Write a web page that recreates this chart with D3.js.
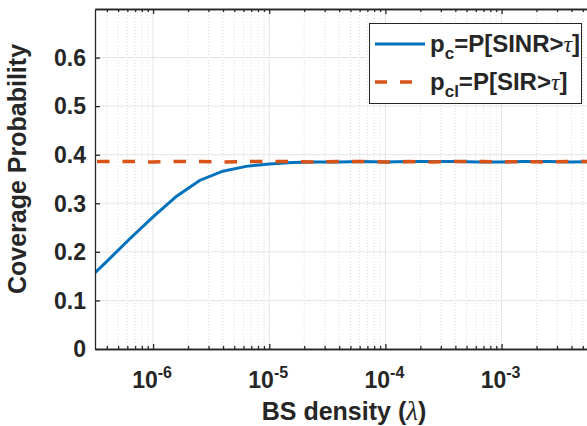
<!DOCTYPE html>
<html>
<head>
<meta charset="utf-8">
<script src="https://cdn.jsdelivr.net/npm/d3@7"></script>
<style>
  body { margin: 0; background: #fff; }
  svg { display: block; font-family: "Liberation Sans", Arial, Helvetica, sans-serif; }
</style>
</head>
<body>
<svg></svg>
<script>
var width = 587
var height = 426

// BS density values (lambda)
var lambda = [3.162e-7, 3.981e-7, 6.310e-7, 1e-6, 1.585e-6, 2.512e-6, 3.981e-6, 6.310e-6,
              1e-5, 1.585e-5, 2.512e-5, 3.981e-5, 6.310e-5, 1e-4, 1.585e-4, 2.512e-4,
              3.981e-4, 6.310e-4, 1e-3, 1.585e-3, 2.512e-3, 3.981e-3, 6.310e-3]
// p_c = P[SINR > tau]
var pc = [0.157, 0.180, 0.227, 0.272, 0.314, 0.347, 0.366, 0.376,
          0.381, 0.384, 0.385, 0.385, 0.386, 0.385, 0.386, 0.386,
          0.386, 0.385, 0.385, 0.386, 0.386, 0.385, 0.386]
// p_cl = P[SIR > tau]
var pcl = [0.386, 0.386, 0.386, 0.385, 0.386, 0.386, 0.385, 0.386,
           0.386, 0.386, 0.385, 0.386, 0.386, 0.385, 0.386, 0.385,
           0.386, 0.386, 0.385, 0.386, 0.385, 0.386, 0.386]

var xMajor = [1e-6, 1e-5, 1e-4, 1e-3]
var xMajorExp = ["-6", "-5", "-4", "-3"]
var yTicks = [0, 0.1, 0.2, 0.3, 0.4, 0.5, 0.6]
var yTickLabels = ["0", "0.1", "0.2", "0.3", "0.4", "0.5", "0.6"]

var plotLeft = 95, plotRight = 593, plotTop = 9, plotBottom = 349
var blue = "#0072BD", orange = "#D95319", axisColor = "#262626"

var xScale = d3.scaleLog()
  .domain([Math.pow(10, -6.5), Math.pow(10, -2.213)])
  .range([plotLeft, plotRight])

var yScale = d3.scaleLinear()
  .domain([0, 0.7])
  .range([plotBottom, plotTop])

// minor ticks: 2..9 of each decade inside the domain
var xMinor = xScale.ticks().filter(d => xMajor.indexOf(d) < 0)

var svg = d3.select("svg")
  .attr("width", width)
  .attr("height", height)

svg.append("defs").append("clipPath").attr("id", "plotClip")
  .append("rect")
  .attr("x", plotLeft).attr("y", plotTop)
  .attr("width", plotRight - plotLeft).attr("height", plotBottom - plotTop)

// grid
var grid = svg.append("g")
grid.selectAll(".minor")
  .data(xMinor)
  .enter().append("line")
    .attr("x1", d => xScale(d)).attr("x2", d => xScale(d))
    .attr("y1", plotTop).attr("y2", plotBottom)
    .attr("stroke", "#dadada")
    .attr("stroke-dasharray", "1,2")
grid.selectAll(".majx")
  .data(xMajor)
  .enter().append("line")
    .attr("x1", d => xScale(d)).attr("x2", d => xScale(d))
    .attr("y1", plotTop).attr("y2", plotBottom)
    .attr("stroke", "#e4e4e4")
grid.selectAll(".majy")
  .data(yTicks.concat([0.7]))
  .enter().append("line")
    .attr("x1", plotLeft).attr("x2", plotRight)
    .attr("y1", d => yScale(d)).attr("y2", d => yScale(d))
    .attr("stroke", "#e4e4e4")

// lines
var plot = svg.append("g").attr("clip-path", "url(#plotClip)")

var line = d3.line()
  .x(d => xScale(d[0]))
  .y(d => yScale(d[1]))

plot.append("path")
  .datum(lambda.map((l, i) => [l, pc[i]]))
  .attr("d", line)
  .attr("fill", "none")
  .attr("stroke", blue)
  .attr("stroke-width", 3)

plot.append("path")
  .datum(lambda.map((l, i) => [l, pcl[i]]))
  .attr("d", line)
  .attr("fill", "none")
  .attr("stroke", orange)
  .attr("stroke-width", 3.5)
  .attr("stroke-dasharray", "12.5,13")
  .attr("stroke-dashoffset", -2)

// axes
function styleAxis(g) {
  g.select(".domain").attr("stroke", axisColor).attr("stroke-width", 1.3)
  g.selectAll(".tick line").attr("stroke", axisColor).attr("stroke-width", 1.3)
  g.selectAll(".tick text").remove()
}

svg.append("g")
  .attr("transform", "translate(0," + plotBottom + ")")
  .call(d3.axisBottom(xScale).tickValues(xMinor).tickSize(-3).tickSizeOuter(0).tickFormat(""))
  .call(styleAxis)
svg.append("g")
  .attr("transform", "translate(0," + plotBottom + ")")
  .call(d3.axisBottom(xScale).tickValues(xMajor).tickSize(-5).tickSizeOuter(0).tickFormat(""))
  .call(styleAxis)
svg.append("g")
  .attr("transform", "translate(0," + plotTop + ")")
  .call(d3.axisTop(xScale).tickValues(xMinor).tickSize(-3).tickSizeOuter(0).tickFormat(""))
  .call(styleAxis)
svg.append("g")
  .attr("transform", "translate(0," + plotTop + ")")
  .call(d3.axisTop(xScale).tickValues(xMajor).tickSize(-5).tickSizeOuter(0).tickFormat(""))
  .call(styleAxis)
svg.append("g")
  .attr("transform", "translate(" + plotLeft + ",0)")
  .call(d3.axisLeft(yScale).tickValues(yTicks).tickSize(-5).tickSizeOuter(0).tickFormat(""))
  .call(styleAxis)

// y tick labels
svg.append("g").selectAll("text")
  .data(yTicks)
  .enter().append("text")
    .attr("x", plotLeft - 9)
    .attr("y", d => yScale(d))
    .attr("dy", "0.36em")
    .attr("text-anchor", "end")
    .attr("font-size", 23)
    .attr("font-weight", "bold")
    .attr("fill", axisColor)
    .text((d, i) => yTickLabels[i])

// x tick labels, 10^n
var xl = svg.append("g").selectAll("text")
  .data(xMajor)
  .enter().append("text")
    .attr("x", d => xScale(d) - 1)
    .attr("y", 388)
    .attr("text-anchor", "middle")
    .attr("font-weight", "bold")
    .attr("fill", axisColor)
xl.append("tspan").attr("font-size", 23).text("10")
xl.append("tspan").attr("font-size", 16).attr("dy", -10).text((d, i) => xMajorExp[i])

// axis titles
var xt = svg.append("text")
  .attr("x", 344)
  .attr("y", 420)
  .attr("text-anchor", "middle")
  .attr("font-size", 25)
  .attr("font-weight", "bold")
  .attr("fill", axisColor)
xt.append("tspan").text("BS density (")
xt.append("tspan").attr("font-family", "'Liberation Serif', 'Times New Roman', serif")
  .attr("font-style", "italic").attr("font-weight", "normal").attr("font-size", 27).text("λ")
xt.append("tspan").text(")")

svg.append("text")
  .attr("transform", "translate(26,169) rotate(-90)")
  .attr("text-anchor", "middle")
  .attr("font-size", 25)
  .attr("font-weight", "bold")
  .attr("fill", axisColor)
  .text("Coverage Probability")

// legend
var legend = svg.append("g")
legend.append("rect")
  .attr("x", 369.5).attr("y", 23.5)
  .attr("width", 212).attr("height", 80)
  .attr("fill", "#fff")
  .attr("stroke", axisColor)
  .attr("stroke-width", 1)

var legendItems = [
  { color: blue, dash: null, sub: "c", rest: "=P[SINR>", y: 44 },
  { color: orange, dash: "12,13", sub: "cl", rest: "=P[SIR>", y: 82 }
]
legendItems.forEach(function (it) {
  legend.append("line")
    .attr("x1", 375).attr("x2", 425)
    .attr("y1", it.y).attr("y2", it.y)
    .attr("stroke", it.color)
    .attr("stroke-width", it.dash ? 3.5 : 3)
    .attr("stroke-dasharray", it.dash)
  var t = legend.append("text")
    .attr("x", 430)
    .attr("y", it.y + 7.5)
    .attr("font-size", 24)
    .attr("font-weight", "bold")
    .attr("fill", axisColor)
  t.append("tspan").text("p")
  t.append("tspan").attr("font-size", 17).attr("dy", 7).text(it.sub)
  t.append("tspan").attr("dy", -7).text(it.rest)
  t.append("tspan").attr("font-family", "'Liberation Serif', 'Times New Roman', serif")
    .attr("font-style", "italic").attr("font-weight", "normal").text("τ")
  t.append("tspan").text("]")
})
</script>
</body>
</html>
